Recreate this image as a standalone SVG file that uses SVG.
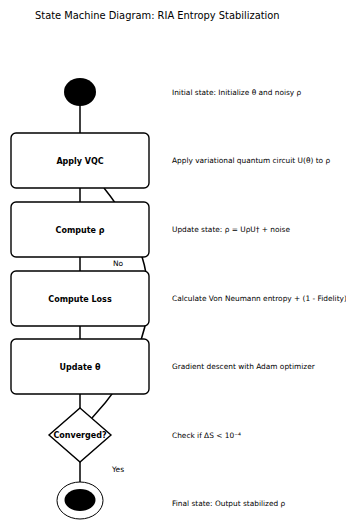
<svg xmlns="http://www.w3.org/2000/svg" width="346" height="522" viewBox="0 0 346 522">
<style>
.box{fill:#fff;stroke:#000;stroke-width:1.4}
.lbl{font-family:"DejaVu Sans",sans-serif;font-size:8px;font-weight:bold;text-anchor:middle;fill:#000}
.desc{font-family:"DejaVu Sans",sans-serif;font-size:7.4px;fill:#000}
.edge{fill:none;stroke:#000;stroke-width:1.5}
.elbl{font-family:"DejaVu Sans",sans-serif;font-size:7.5px;fill:#000}
</style>
<rect width="346" height="522" fill="#fff"/>
<text x="35" y="19" font-family="DejaVu Sans, sans-serif" font-size="9.9" fill="#000">State Machine Diagram: RIA Entropy Stabilization</text>
<g id="connectors">
<line class="edge" x1="80" y1="100" x2="80" y2="140"/>
<line class="edge" x1="80" y1="180" x2="80" y2="210"/>
<line class="edge" x1="80" y1="250" x2="80" y2="280"/>
<line class="edge" x1="80" y1="320" x2="80" y2="345"/>
<line class="edge" x1="80" y1="390" x2="80" y2="412"/>
<line class="edge" x1="80" y1="458" x2="80" y2="483"/>
<path class="edge" d="M92,418 Q198,305 104,188"/>
<text class="elbl" x="113" y="266">No</text>
<text class="elbl" x="112" y="472">Yes</text>
</g>
<g id="start">
<ellipse cx="80" cy="92" rx="16" ry="14" fill="#000"/>
</g>
<g id="apply_vqc">
<rect class="box" x="11" y="133" width="138" height="55" rx="5"/>
<text class="lbl" x="80" y="163.5">Apply VQC</text>
</g>
<g id="compute_rho">
<rect class="box" x="11" y="202" width="138" height="55" rx="5"/>
<text class="lbl" x="80" y="232.5">Compute ρ</text>
</g>
<g id="compute_loss">
<rect class="box" x="11" y="271" width="138" height="55" rx="5"/>
<text class="lbl" x="80" y="301.5">Compute Loss</text>
</g>
<g id="update_theta">
<rect class="box" x="11" y="339" width="138" height="55" rx="5"/>
<text class="lbl" x="80" y="369.5">Update θ</text>
</g>
<g id="converged">
<polygon class="box" points="80,408 111,435 80,462 49,435"/>
<text class="lbl" x="80" y="438">Converged?</text>
</g>
<g id="final">
<ellipse cx="80" cy="500.5" rx="23" ry="18.5" fill="#fff" stroke="#000" stroke-width="1"/>
<ellipse cx="80" cy="500" rx="15.5" ry="11" fill="#000"/>
</g>
<g id="descriptions">
<text class="desc" x="172" y="95">Initial state: Initialize θ and noisy ρ</text>
<text class="desc" x="172" y="163">Apply variational quantum circuit U(θ) to ρ</text>
<text class="desc" x="172" y="232">Update state: ρ = UρU† + noise</text>
<text class="desc" x="172" y="301">Calculate Von Neumann entropy + (1 - Fidelity)</text>
<text class="desc" x="172" y="369">Gradient descent with Adam optimizer</text>
<text class="desc" x="172" y="438">Check if ΔS &lt; 10⁻⁴</text>
<text class="desc" x="172" y="506">Final state: Output stabilized ρ</text>
</g>
</svg>
